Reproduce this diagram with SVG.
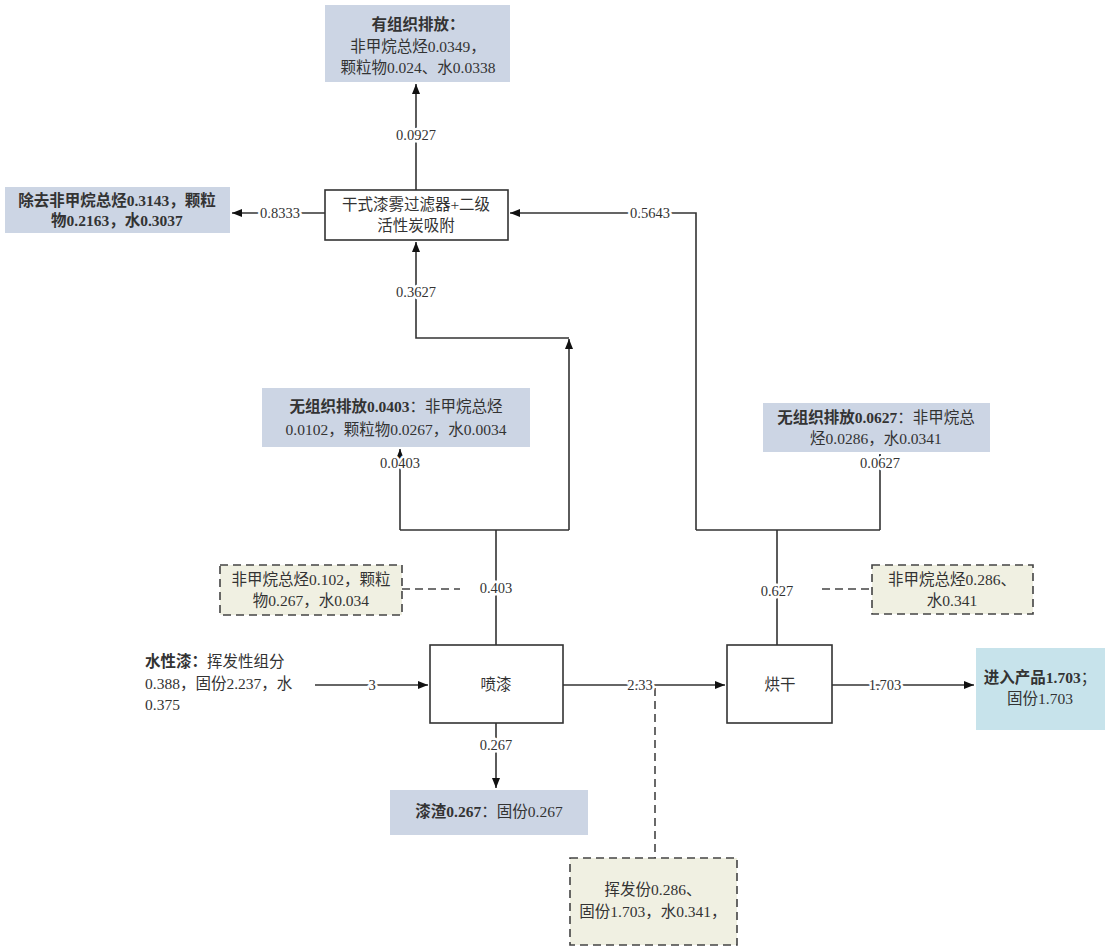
<svg xmlns="http://www.w3.org/2000/svg" width="1113" height="952" viewBox="0 0 1113 952">
<style>
text{font-family:"Liberation Serif","Noto Sans CJK SC",serif;font-size:15.5px;fill:#333;text-anchor:middle}
.b{font-weight:bold}
.lbl{paint-order:stroke;stroke:#fff;stroke-width:5px;stroke-linejoin:round;font-size:14.5px}
.ln{fill:none;stroke:#333;stroke-width:1.6}
.dash{fill:none;stroke:#444;stroke-width:1.6;stroke-dasharray:8 5}
.proc{fill:#fff;stroke:#333;stroke-width:1.6}
.em{fill:#ccd5e4}
.prod{fill:#c7e3eb}
.db{fill:#f0f0e2;stroke:#444;stroke-width:1.6;stroke-dasharray:8 5}
</style>
<defs>
<marker id="ar" viewBox="0 0 10 8" refX="10" refY="4" markerWidth="10" markerHeight="8" markerUnits="userSpaceOnUse" orient="auto">
<path d="M0,0L10,4L0,8Z" fill="#111"/>
</marker>
</defs>
<rect width="1113" height="952" fill="#fff"/>
<g id="connectors">
<path class="ln" d="M416,190V84" marker-end="url(#ar)"/>
<path class="ln" d="M325,213H232" marker-end="url(#ar)"/>
<path class="ln" d="M696,530V213H510" marker-end="url(#ar)"/>
<path class="ln" d="M569,530V339" marker-end="url(#ar)"/>
<path class="ln" d="M569,338H416V242" marker-end="url(#ar)"/>
<path class="ln" d="M496,645V530M400,530H569"/>
<path class="ln" d="M400,530V449" marker-end="url(#ar)"/>
<path class="ln" d="M777,645V530M696,530H880"/>
<path class="ln" d="M880,530V454" marker-end="url(#ar)"/>
<path class="dash" d="M402,589H460M822,589H872M655,688V858"/>
<path class="ln" d="M315,685H428" marker-end="url(#ar)"/>
<path class="ln" d="M563,685H725" marker-end="url(#ar)"/>
<path class="ln" d="M832,685H974" marker-end="url(#ar)"/>
<path class="ln" d="M496,723V788" marker-end="url(#ar)"/>
<text class="lbl" x="416" y="140">0.0927</text>
<text class="lbl" x="280" y="218">0.8333</text>
<text class="lbl" x="650" y="218">0.5643</text>
<text class="lbl" x="416" y="297">0.3627</text>
<text class="lbl" x="496" y="593">0.403</text>
<text class="lbl" x="400" y="468">0.0403</text>
<text class="lbl" x="777" y="596">0.627</text>
<text class="lbl" x="880" y="468">0.0627</text>
<text class="lbl" x="372" y="690">3</text>
<text class="lbl" x="640" y="690">2.33</text>
<text class="lbl" x="885" y="690">1.703</text>
<text class="lbl" x="496" y="750">0.267</text>
</g>
<g id="organized">
<rect class="em" x="325" y="5" width="185" height="77"/>
<text class="b" x="418" y="30">有组织排放：</text>
<text x="418" y="52">非甲烷总烃0.0349，</text>
<text x="418" y="73">颗粒物0.024、水0.0338</text>
</g>
<g id="filter">
<rect class="proc" x="325" y="190" width="183" height="50"/>
<text x="416" y="210">干式漆雾过滤器+二级</text>
<text x="416" y="231">活性炭吸附</text>
</g>
<g id="removed">
<rect class="em" x="5" y="187" width="225" height="46"/>
<text class="b" x="117" y="206">除去非甲烷总烃0.3143，颗粒</text>
<text class="b" x="117" y="226">物0.2163，水0.3037</text>
</g>
<g id="fugitive1">
<rect class="em" x="262" y="388" width="268" height="59"/>
<text x="396" y="412"><tspan class="b">无组织排放0.0403</tspan>：非甲烷总烃</text>
<text x="396" y="435">0.0102，颗粒物0.0267，水0.0034</text>
</g>
<g id="fugitive2">
<rect class="em" x="763" y="403" width="227" height="49"/>
<text x="876" y="423"><tspan class="b">无组织排放0.0627</tspan>：非甲烷总</text>
<text x="876" y="444">烃0.0286，水0.0341</text>
</g>
<g id="dash1">
<rect class="db" x="220" y="565" width="182" height="50"/>
<text x="311" y="585">非甲烷总烃0.102，颗粒</text>
<text x="311" y="606">物0.267，水0.034</text>
</g>
<g id="dash2">
<rect class="db" x="872" y="565" width="161" height="49"/>
<text x="952" y="585">非甲烷总烃0.286、</text>
<text x="952" y="606">水0.341</text>
</g>
<g id="input">
<text x="145" y="667" style="text-anchor:start"><tspan class="b">水性漆：</tspan>挥发性组分</text>
<text x="145" y="689" style="text-anchor:start">0.388，固份2.237，水</text>
<text x="145" y="710" style="text-anchor:start">0.375</text>
</g>
<g id="spray">
<rect class="proc" x="430" y="645" width="133" height="78"/>
<text x="496" y="690">喷漆</text>
</g>
<g id="dry">
<rect class="proc" x="727" y="645" width="105" height="78"/>
<text x="780" y="690">烘干</text>
</g>
<g id="product">
<rect class="prod" x="976" y="648" width="129" height="82"/>
<text x="1040" y="683"><tspan class="b">进入产品1.703</tspan>；</text>
<text x="1040" y="704">固份1.703</text>
</g>
<g id="slag">
<rect class="em" x="390" y="790" width="198" height="45"/>
<text x="489" y="817"><tspan class="b">漆渣0.267</tspan>：固份0.267</text>
</g>
<g id="dash3">
<rect class="db" x="570" y="858" width="167" height="87"/>
<text x="653" y="895">挥发份0.286、</text>
<text x="653" y="917">固份1.703，水0.341，</text>
</g>
</svg>
